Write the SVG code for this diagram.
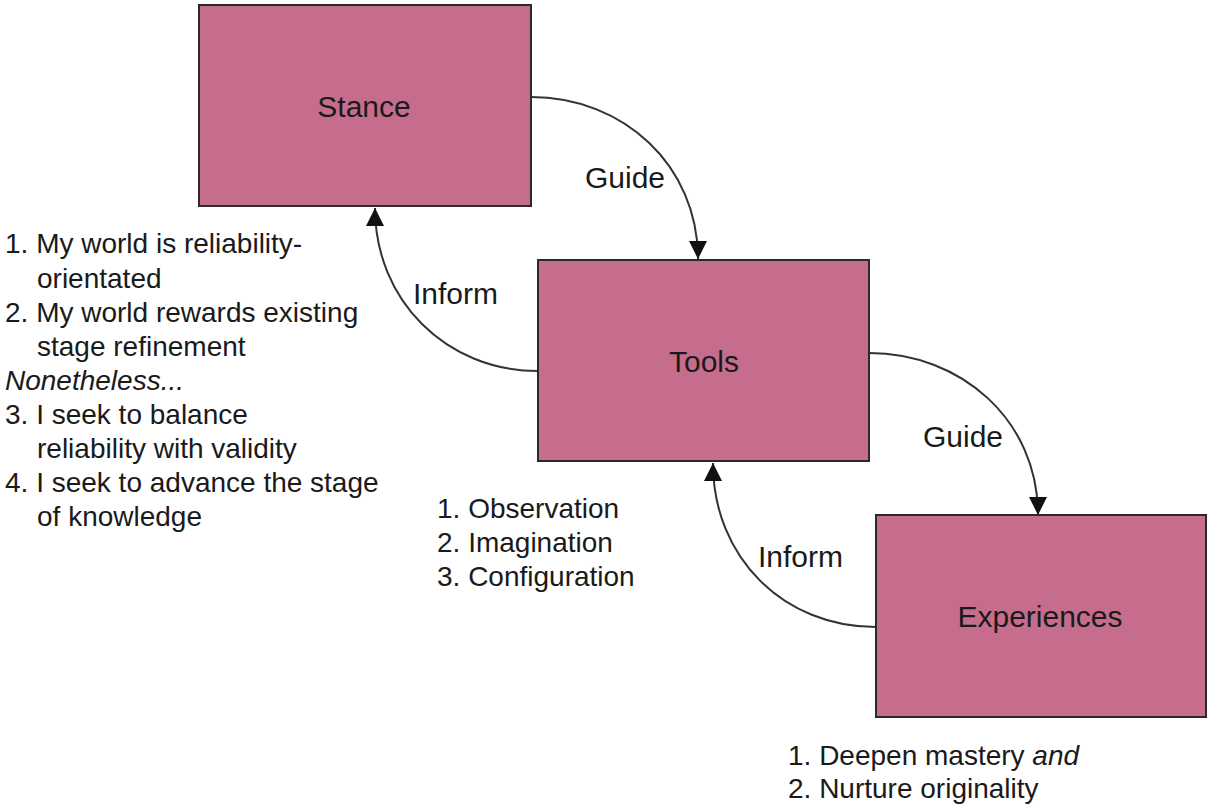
<svg xmlns="http://www.w3.org/2000/svg" width="1208" height="805" viewBox="0 0 1208 805">
  <style>
    .box { fill: #c66d8d; stroke: #2a2a2a; stroke-width: 2; }
    .title { font-family: "Liberation Sans", Arial, sans-serif; font-size: 30px; fill: #1a1a1a; text-anchor: middle; }
    .label { font-family: "Liberation Sans", Arial, sans-serif; font-size: 30px; fill: #1a1a1a; }
    .list { font-family: "Liberation Sans", Arial, sans-serif; font-size: 28px; fill: #1a1a1a; }
    .conn { fill: none; stroke: #333; stroke-width: 2; marker-end: url(#arrow); }
  </style>
  <defs>
    <marker id="arrow" markerUnits="userSpaceOnUse" viewBox="0 0 18 18" markerWidth="18" markerHeight="18" refX="18" refY="9" orient="auto">
      <path d="M0,0 L18,9 L0,18 z" fill="#111"/>
    </marker>
  </defs>
  <rect width="1208" height="805" fill="#fff"/>

  <g id="connectors">
    <path class="conn" d="M531,97 C623,97 698,165 698,259"/>
    <path class="conn" d="M538,371 C446,371 375,300 375,208"/>
    <path class="conn" d="M869,353 C961,353 1038,420 1038,515"/>
    <path class="conn" d="M876,627 C784,627 713,558 713,463"/>
    <text class="label" x="585" y="188">Guide</text>
    <text class="label" x="413" y="304">Inform</text>
    <text class="label" x="923" y="447">Guide</text>
    <text class="label" x="758" y="567">Inform</text>
  </g>

  <g id="stance">
    <rect class="box" x="199" y="5" width="332" height="201"/>
    <text class="title" x="364" y="117">Stance</text>
  </g>
  <g id="tools">
    <rect class="box" x="538" y="260" width="331" height="201"/>
    <text class="title" x="704" y="372">Tools</text>
  </g>
  <g id="experiences">
    <rect class="box" x="876" y="515" width="330" height="202"/>
    <text class="title" x="1040" y="627">Experiences</text>
  </g>

  <g id="stance-notes">
    <text class="list" x="5" y="253">1. My world is reliability-</text>
    <text class="list" x="37" y="288">orientated</text>
    <text class="list" x="5" y="322">2. My world rewards existing</text>
    <text class="list" x="37" y="356">stage refinement</text>
    <text class="list" x="5" y="390" font-style="italic">Nonetheless...</text>
    <text class="list" x="5" y="424">3. I seek to balance</text>
    <text class="list" x="37" y="458">reliability with validity</text>
    <text class="list" x="5" y="492">4. I seek to advance the stage</text>
    <text class="list" x="37" y="526">of knowledge</text>
  </g>
  <g id="tools-notes">
    <text class="list" x="437" y="518">1. Observation</text>
    <text class="list" x="437" y="552">2. Imagination</text>
    <text class="list" x="437" y="586">3. Configuration</text>
  </g>
  <g id="experiences-notes">
    <text class="list" x="788" y="765">1. Deepen mastery <tspan font-style="italic">and</tspan></text>
    <text class="list" x="788" y="798">2. Nurture originality</text>
  </g>
</svg>
